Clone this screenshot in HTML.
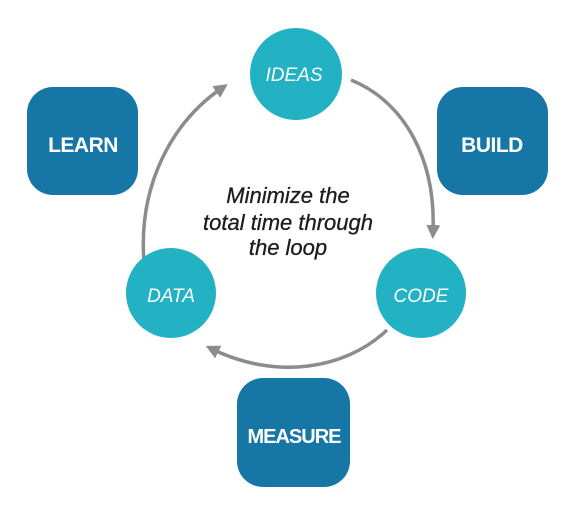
<!DOCTYPE html>
<html><head><meta charset="utf-8"><style>
html,body{margin:0;padding:0;background:#fff;}
svg{display:block}
</style></head><body>
<svg width="570" height="512" viewBox="0 0 570 512" xmlns="http://www.w3.org/2000/svg">
<defs>
<marker id="ah" markerWidth="4" markerHeight="4" refX="2" refY="2" orient="auto" markerUnits="strokeWidth">
<path d="M0,0 L4,2 L0,4 Z" fill="#8a8c8f"/>
</marker>
</defs>
<g fill="none" stroke="#8a8c8f" stroke-width="3.5">
<path d="M351,80 C405,102 436,160 433,232" marker-end="url(#ah)"/>
<path d="M144,262 C138,185 172,122 222,88" marker-end="url(#ah)"/>
<path d="M387,330 C345,370 275,380 212,349" marker-end="url(#ah)"/>
</g>
<rect x="27" y="87" width="111" height="108" rx="26" fill="#1676a6"/>
<rect x="437" y="87" width="111" height="108" rx="26" fill="#1676a6"/>
<rect x="237" y="378" width="113" height="109" rx="26" fill="#1676a6"/>
<circle cx="296" cy="74" r="46" fill="#22b2c4"/>
<circle cx="421" cy="293" r="45" fill="#22b2c4"/>
<circle cx="171" cy="293" r="45" fill="#22b2c4"/>
<g font-family="Liberation Sans, sans-serif" fill="#fff" text-anchor="middle">
<text x="83" y="152" font-size="21" font-weight="bold" letter-spacing="-0.5">LEARN</text>
<text x="492" y="152" font-size="21" font-weight="bold" letter-spacing="-0.5">BUILD</text>
<text x="294" y="443" font-size="20" font-weight="bold" letter-spacing="-1">MEASURE</text>
<text x="294" y="81" font-size="19" font-style="italic">IDEAS</text>
<text x="421" y="302" font-size="19" font-style="italic">CODE</text>
<text x="171" y="302" font-size="19" font-style="italic">DATA</text>
</g>
<g font-family="Liberation Sans, sans-serif" fill="#1c1c1c" text-anchor="middle" font-size="22" font-style="italic" stroke="#1c1c1c" stroke-width="0.3">
<text x="288" y="203">Minimize the</text>
<text x="288" y="230">total time through</text>
<text x="288" y="255">the loop</text>
</g>
</svg>
</body></html>
